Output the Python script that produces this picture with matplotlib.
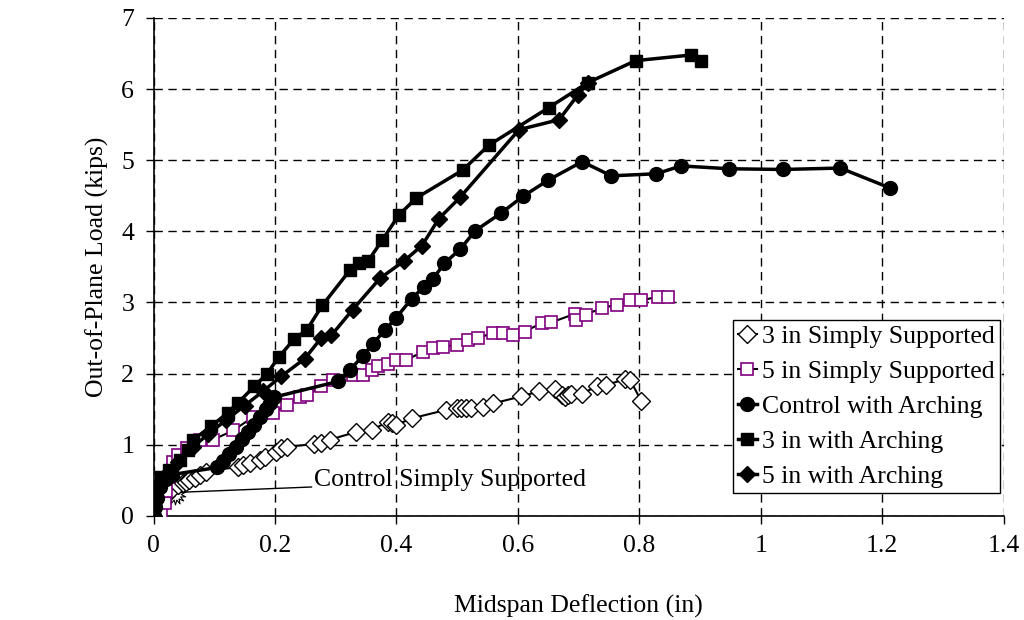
import matplotlib
matplotlib.use('Agg')
import matplotlib.pyplot as plt
from matplotlib.path import Path
from matplotlib.ticker import FuncFormatter, MultipleLocator

plt.rcParams['font.family'] = ['Liberation Serif', 'DejaVu Serif']
plt.rcParams['font.size'] = 18.5

# 3 in Simply Supported (open diamonds)
ss3_x = [0, 0.005, 0.01, 0.02, 0.03, 0.04, 0.048, 0.054, 0.059, 0.068, 0.076, 0.087,
         0.139, 0.147, 0.158, 0.175, 0.183, 0.202, 0.210, 0.219, 0.265, 0.276, 0.290,
         0.334, 0.359, 0.386, 0.392, 0.400, 0.425, 0.482, 0.500, 0.507, 0.515, 0.523,
         0.543, 0.559, 0.606, 0.635, 0.661, 0.672, 0.677, 0.683, 0.688, 0.705, 0.731,
         0.746, 0.776, 0.785, 0.803]
ss3_y = [0, 0.1, 0.2, 0.3, 0.38, 0.43, 0.46, 0.48, 0.50, 0.53, 0.57, 0.62,
         0.69, 0.71, 0.74, 0.78, 0.83, 0.90, 0.95, 0.97, 1.01, 1.02, 1.07,
         1.18, 1.21, 1.32, 1.30, 1.28, 1.37, 1.49, 1.51, 1.51, 1.51, 1.51,
         1.53, 1.58, 1.68, 1.75, 1.79, 1.70, 1.67, 1.70, 1.72, 1.72, 1.82,
         1.84, 1.92, 1.91, 1.62]

# 5 in Simply Supported (purple open squares)
ss5_x = [0, 0.005, 0.013, 0.018, 0.02, 0.025, 0.032, 0.04, 0.055, 0.076, 0.098, 0.131,
         0.164, 0.197, 0.219, 0.241, 0.252, 0.276, 0.295, 0.328, 0.345, 0.359, 0.370,
         0.386, 0.400, 0.416, 0.444, 0.460, 0.477, 0.499, 0.518, 0.534, 0.559, 0.576,
         0.592, 0.611, 0.639, 0.655, 0.694, 0.696, 0.712, 0.738, 0.763, 0.784, 0.803,
         0.831, 0.847]
ss5_y = [0, 0.02, 0.03, 0.18, 0.35, 0.55, 0.76, 0.85, 0.95, 1.07, 1.07, 1.2,
         1.39, 1.44, 1.56, 1.67, 1.70, 1.82, 1.91, 1.98, 1.98, 2.05, 2.10,
         2.14, 2.19, 2.19, 2.31, 2.36, 2.38, 2.40, 2.47, 2.50, 2.57, 2.57,
         2.54, 2.59, 2.71, 2.72, 2.84, 2.75, 2.83, 2.92, 2.97, 3.03, 3.03,
         3.08, 3.07]

# Control with Arching (filled circles)
ca_x = [0, 0.002, 0.005, 0.01, 0.02, 0.03, 0.105, 0.115, 0.125, 0.135, 0.145, 0.155,
        0.165, 0.175, 0.185, 0.192, 0.199, 0.304, 0.323, 0.345, 0.361, 0.381, 0.399,
        0.425, 0.445, 0.460, 0.479, 0.505, 0.530, 0.573, 0.608, 0.650, 0.706, 0.754,
        0.828, 0.869, 0.948, 1.037, 1.131, 1.213]
ca_y = [0, 0.12, 0.25, 0.4, 0.52, 0.58, 0.68, 0.77, 0.87, 0.97, 1.08, 1.18,
        1.28, 1.39, 1.50, 1.58, 1.67, 1.89, 2.05, 2.25, 2.42, 2.61, 2.78,
        3.05, 3.22, 3.33, 3.55, 3.75, 4.01, 4.26, 4.49, 4.72, 4.98, 4.78,
        4.81, 4.92, 4.88, 4.87, 4.89, 4.61]

# 3 in with Arching (filled squares)
a3_x = [0, 0.002, 0.005, 0.012, 0.026, 0.043, 0.057, 0.065, 0.095, 0.122, 0.139, 0.166,
        0.187, 0.206, 0.232, 0.252, 0.278, 0.323, 0.339, 0.353, 0.377, 0.404, 0.433,
        0.509, 0.552, 0.651, 0.715, 0.794, 0.886, 0.902]
a3_y = [0, 0.2, 0.4, 0.55, 0.64, 0.78, 0.92, 1.07, 1.26, 1.45, 1.59, 1.82,
        2.0, 2.23, 2.49, 2.61, 2.96, 3.45, 3.55, 3.58, 3.88, 4.23, 4.47,
        4.86, 5.21, 5.74, 6.09, 6.40, 6.48, 6.40]

# 5 in with Arching (filled diamonds)
a5_x = [0, 0.003, 0.008, 0.02, 0.04, 0.065, 0.09, 0.12, 0.15, 0.18, 0.21, 0.249,
        0.276, 0.293, 0.328, 0.373, 0.412, 0.442, 0.470, 0.505, 0.602, 0.668, 0.699,
        0.716]
a5_y = [0, 0.25, 0.45, 0.58, 0.75, 0.97, 1.15, 1.35, 1.55, 1.75, 1.96, 2.21,
        2.50, 2.54, 2.90, 3.34, 3.58, 3.80, 4.18, 4.48, 5.43, 5.57, 5.92,
        6.09]

# Control Simply Supported (stays near the origin)
cs_x = [0, 0.01, 0.02, 0.03, 0.035]
cs_y = [0, 0.15, 0.25, 0.3, 0.31]

fig = plt.figure(figsize=(10.24, 6.2), dpi=100)
ax = fig.add_axes([0.150, 0.168, 0.830, 0.803])

burst = Path.unit_regular_star(14, 0.55)
ax.plot(cs_x, cs_y, color='black', lw=1, marker=burst, markersize=15,
        markerfacecolor='white', markeredgecolor='black', markeredgewidth=0.8,
        markevery=[len(cs_x) - 1], zorder=3)

ax.plot(ss3_x, ss3_y, color='black', lw=1.5, marker='D', markersize=9,
        markerfacecolor='white', markeredgecolor='black', markeredgewidth=1,
        label='3 in Simply Supported', zorder=4)
ax.plot(ss5_x, ss5_y, color='black', lw=1.5, marker='s', markersize=8.5,
        markerfacecolor='white', markeredgecolor='#800080', markeredgewidth=1.2,
        label='5 in Simply Supported', zorder=4)
ax.plot(ca_x, ca_y, color='black', lw=2.5, marker='o', markersize=10,
        label='Control with Arching', zorder=5)
ax.plot(a3_x, a3_y, color='black', lw=2.5, marker='s', markersize=8.5,
        label='3 in with Arching', zorder=5)
ax.plot(a5_x, a5_y, color='black', lw=2.5, marker='D', markersize=8,
        label='5 in with Arching', zorder=5)

ax.annotate('Control Simply Supported', xy=(0.04, 0.33), xytext=(0.265, 0.5),
            fontsize=18.5, va='center', ha='left',
            arrowprops=dict(arrowstyle='-', color='black', lw=1,
                            shrinkA=0, shrinkB=0, relpos=(0, 0.2)))

ax.set_xlim(0, 1.4)
ax.set_ylim(0, 7)
ax.xaxis.set_major_locator(MultipleLocator(0.2))
ax.yaxis.set_major_locator(MultipleLocator(1))
ax.xaxis.set_major_formatter(FuncFormatter(lambda v, p: '%g' % round(v, 2)))
ax.yaxis.set_major_formatter(FuncFormatter(lambda v, p: '%g' % v))
ax.grid(True, color='black', linestyle=(0, (6, 4)), linewidth=1)
ax.set_axisbelow(True)
ax.spines['top'].set_visible(False)
ax.spines['right'].set_visible(False)
ax.spines['left'].set_linewidth(1.2)
ax.spines['bottom'].set_linewidth(1.2)
ax.tick_params(direction='out', length=6, width=1, pad=8, colors='black')

ax.set_xlabel('Midspan Deflection (in)', labelpad=27)
ax.set_ylabel('Out-of-Plane Load (kips)', labelpad=9)

leg = ax.legend(loc='lower right', bbox_to_anchor=(0.996, 0.045), borderaxespad=0,
                fancybox=False, edgecolor='black', framealpha=1, handlelength=0.75,
                handletextpad=0.2, labelspacing=0.47, borderpad=0.2)
leg.get_frame().set_linewidth(1)

fig.savefig('out.png', dpi=100)
